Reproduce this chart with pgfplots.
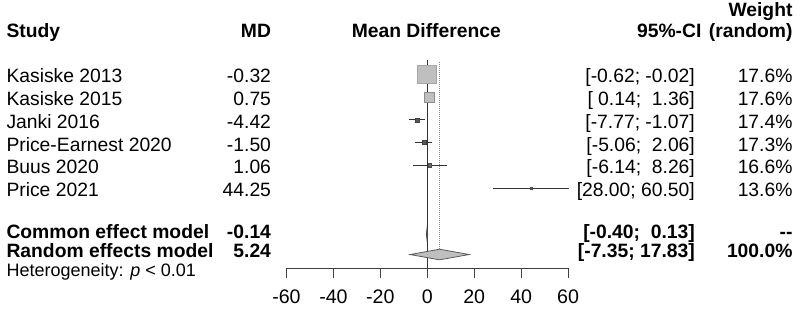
\documentclass[border=0pt]{standalone}
\usepackage{pgfplots}
\pgfplotsset{compat=1.18}
\usepackage{fontspec}
\setmainfont{Liberation Sans}

\newcommand\tf{\fontsize{19.3}{22}\selectfont}
\newcommand\hf{\fontsize{18}{21}\selectfont}

\tikzset{
  stl/.style={anchor=base west, font=\tf},
  str/.style={anchor=base east, font=\tf},
  bl/.style={anchor=base west, font=\tf\bfseries},
  br/.style={anchor=base east, font=\tf\bfseries},
}

\begin{document}
\begin{tikzpicture}
\begin{axis}[
  scale only axis, width=281.6pt, height=208pt,
  xmin=-60, xmax=60, ymin=-268, ymax=-60,
  axis x line*=bottom, axis y line=none,
  clip=false,
  xtick={-60,-40,...,60},
  xticklabels={-60,-40,-20,0,20,40,60},
  tick align=outside, major tick length=10pt,
  every tick/.style={black!75, line width=1pt},
  x axis line style={black!75, line width=1pt},
  xticklabel style={font=\fontsize{19.6}{22}\selectfont, anchor=base, yshift=-25pt},
]
% frame of the whole picture
\coordinate (bbTL) at (axis cs:-182.07,0);
\coordinate (bbBR) at (axis cs:158.8,-310);

% reference lines: no effect and random effects estimate
\addplot[black!80, line width=1pt] coordinates {(0,-60) (0,-268)};
\addplot[black!45, line width=1pt, dash pattern=on 1pt off 1pt] coordinates {(5.24,-62) (5.24,-249.2)};

% study boxes
\addplot[only marks, mark=square*, mark size=9.25pt, mark options={fill=black!25, draw=black!35, line width=0.5pt}] coordinates {(-0.32,-74.2)};
\addplot[only marks, mark=square*, mark size=5.25pt, mark options={fill=black!25, draw=black!45, line width=0.5pt}] coordinates {(0.75,-97.0)};
\addplot[only marks, mark=square*, mark size=2pt, mark options={fill=black!65, draw=black!75, line width=0.5pt}] coordinates {(-4.42,-119.8)};
\addplot[only marks, mark=square*, mark size=2pt, mark options={fill=black!65, draw=black!75, line width=0.5pt}] coordinates {(-1.50,-142.6)};
\addplot[only marks, mark=square*, mark size=1.8pt, mark options={fill=black!60, draw=black!70, line width=0.5pt}] coordinates {(1.06,-165.4)};
\addplot[only marks, mark=square*, mark size=1.2pt, mark options={fill=black!60, draw=black!70, line width=0.5pt}] coordinates {(44.25,-188.2)};

% confidence intervals
\addplot[white, line width=1pt] coordinates {(-0.62,-74.2) (-0.02,-74.2)};
\addplot[white, line width=1pt] coordinates {(0.14,-97.0) (1.36,-97.0)};
\addplot[black!80, line width=1pt] coordinates {(-7.77,-119.8) (-1.07,-119.8)};
\addplot[black!80, line width=1pt] coordinates {(-5.06,-142.6) (2.06,-142.6)};
\addplot[black!80, line width=1pt] coordinates {(-6.14,-165.4) (8.26,-165.4)};
\addplot[black!80, line width=1pt] coordinates {(28.00,-188.2) (60.50,-188.2)};

% pooled estimates
\addplot[fill=black!25, draw=black!70, line width=0.9pt] coordinates {(-0.40,-234) (-0.14,-229) (0.13,-234) (-0.14,-239)} -- cycle;
\addplot[fill=black!25, draw=black!65, line width=0.8pt] coordinates {(-7.35,-254.5) (5.24,-249.2) (17.83,-254.5) (5.24,-259.8)} -- cycle;

% column headers
\node[bl] at (axis cs:-180.8,-37.5) {Study};
\node[br] at (axis cs:-65.1,-37.5) {MD};
\node[anchor=base, font=\tf\bfseries] at (axis cs:-0.4,-37.5) {Mean Difference};
\node[br] at (axis cs:118.3,-37.5) {95\%-CI};
\node[br] at (axis cs:157.1,-17) {Weight};
\node[br] at (axis cs:157.1,-37.5) {(random)};

% study rows
\node[stl] at (axis cs:-180.8,-82.7) {Kasiske 2013};
\node[str] at (axis cs:-65.1,-82.7) {-0.32};
\node[str] at (axis cs:115.5,-82.7) {[-0.62; -0.02]};
\node[str] at (axis cs:157.1,-82.7) {17.6\%};

\node[stl] at (axis cs:-180.8,-105.5) {Kasiske 2015};
\node[str] at (axis cs:-65.1,-105.5) {0.75};
\node[str] at (axis cs:115.5,-105.5) {[\ 0.14;\ \ 1.36]};
\node[str] at (axis cs:157.1,-105.5) {17.6\%};

\node[stl] at (axis cs:-180.8,-128.3) {Janki 2016};
\node[str] at (axis cs:-65.1,-128.3) {-4.42};
\node[str] at (axis cs:115.5,-128.3) {[-7.77; -1.07]};
\node[str] at (axis cs:157.1,-128.3) {17.4\%};

\node[stl] at (axis cs:-180.8,-151.1) {Price-Earnest 2020};
\node[str] at (axis cs:-65.1,-151.1) {-1.50};
\node[str] at (axis cs:115.5,-151.1) {[-5.06;\ \ 2.06]};
\node[str] at (axis cs:157.1,-151.1) {17.3\%};

\node[stl] at (axis cs:-180.8,-173.9) {Buus 2020};
\node[str] at (axis cs:-65.1,-173.9) {1.06};
\node[str] at (axis cs:115.5,-173.9) {[-6.14;\ \ 8.26]};
\node[str] at (axis cs:157.1,-173.9) {16.6\%};

\node[stl] at (axis cs:-180.8,-196.7) {Price 2021};
\node[str] at (axis cs:-65.1,-196.7) {44.25};
\node[str] at (axis cs:115.5,-196.7) {[28.00; 60.50]};
\node[str] at (axis cs:157.1,-196.7) {13.6\%};

% pooled rows
\node[bl] at (axis cs:-180.8,-238) {Common effect model};
\node[br] at (axis cs:-65.1,-238) {-0.14};
\node[br] at (axis cs:115.5,-238) {[-0.40;\ \ 0.13]};
\node[br] at (axis cs:157.1,-238) {-{}-};
\node[bl] at (axis cs:-180.8,-257) {Random effects model};
\node[br] at (axis cs:-65.1,-257) {5.24};
\node[br] at (axis cs:115.5,-257) {[-7.35; 17.83]};
\node[br] at (axis cs:157.1,-257) {100.0\%};
\node[anchor=base west, font=\hf] at (axis cs:-180.8,-276.5) {Heterogeneity: \textit{p} < 0.01};
\end{axis}
\pgfresetboundingbox
\path[use as bounding box] (bbTL) rectangle (bbBR);
\end{tikzpicture}
\end{document}
